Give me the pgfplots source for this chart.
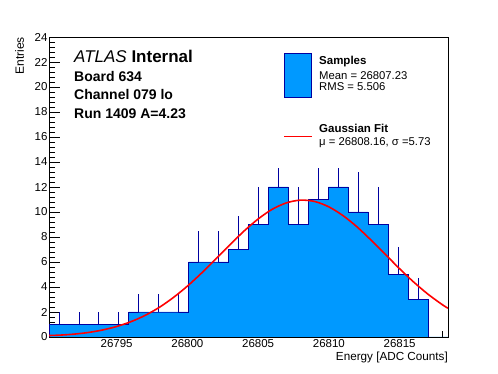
\documentclass[border=0pt]{standalone}
\usepackage{fontspec}
\setmainfont{Liberation Sans}
\usepackage{pgfplots}
\pgfplotsset{compat=1.18}
\usepackage{pgfplotstable}
\definecolor{rootblue}{RGB}{0,153,255}
\definecolor{rootnavy}{RGB}{0,0,160}
\definecolor{rootred}{RGB}{255,0,0}

% histogram: bin lower edge, content (last row closes the histogram)
\pgfplotstableread{
x y
26790.22 1
26791.63 1
26793.04 1
26794.45 1
26795.86 2
26797.27 2
26798.68 2
26800.09 6
26801.50 6
26802.91 7
26804.32 9
26805.73 12
26807.14 9
26808.55 11
26809.96 12
26811.37 10
26812.78 9
26814.19 5
26815.60 3
26817.01 0
26818.42 0
}\histtable

% visible error bar part: bin centre, content, upward length
\pgfplotstableread{
x y e
26790.925 1 1.000
26792.335 1 1.000
26793.745 1 1.000
26795.155 1 1.000
26796.565 2 1.414
26797.975 2 1.414
26799.385 2 1.414
26800.795 6 2.449
26802.205 6 2.449
26803.615 7 2.646
26805.025 9 3.000
26806.435 12 1.520
26807.845 9 3.000
26809.255 11 2.520
26810.665 12 1.520
26812.075 10 3.162
26813.485 9 3.000
26814.895 5 2.236
26816.305 3 1.732
}\errtable

% Gaussian fit curve
\pgfplotstableread{
x y
26790.22 0.12
26791 0.15
26792 0.23
26793 0.36
26794 0.56
26795 0.84
26796 1.22
26797 1.72
26798 2.36
26799 3.15
26800 4.07
26801 5.11
26802 6.23
26803 7.37
26804 8.47
26805 9.44
26806 10.22
26807 10.73
26808 10.95
26809 10.84
26810 10.41
26811 9.71
26812 8.80
26813 7.73
26814 6.60
26815 5.46
26816 4.39
26817 3.43
26818 2.60
26818.42 2.30
}\fittable

\begin{document}
\begin{tikzpicture}
\path[use as bounding box] (-49pt,-37pt) rectangle (449pt,337pt);
\begin{axis}[
  scale only axis,
  width=399pt, height=300pt,
  xmin=26790.22, xmax=26818.42,
  ymin=0, ymax=24,
  xtick={26795,26800,26805,26810,26815},
  minor xtick={26791,26792,...,26818},
  ytick={0,2,...,24},
  minor ytick={0,0.4,...,24},
  tick align=inside,
  xtick pos=left, ytick pos=left,
  major tick length=11pt,
  minor tick length=6pt,
  every tick/.style={black, line width=0.7pt},
  axis line style={black, line width=0.8pt},
  tick label style={font=\fontsize{11.5}{13}\selectfont},
  /pgf/number format/assume math mode=true,
  /pgf/number format/1000 sep={},
  xticklabel style={anchor=north, inner sep=0pt, yshift=-2pt},
  yticklabel style={anchor=east, inner sep=0pt, xshift=-1.3pt},
  scaled x ticks=false,
]
\addplot[const plot, fill=rootblue, draw=rootnavy, line width=0.8pt] table[x=x,y=y]{\histtable} \closedcycle;
\addplot[draw=none, no markers, forget plot,
  error bars/.cd, y dir=plus, y explicit, error mark=none,
  error bar style={draw=rootnavy, line width=0.8pt}]
  table[x=x, y=y, y error=e]{\errtable};
\addplot[rootred, line width=1.6pt, smooth, no marks] table[x=x,y=y]{\fittable};
\end{axis}

% labels
\node[rotate=90, anchor=base east, inner sep=0pt, font=\fontsize{12}{14}\selectfont] at (-25pt,300pt) {Entries};
\node[anchor=base east, inner sep=0pt, font=\fontsize{11.7}{14}\selectfont] at (399pt,-24pt) {Energy [ADC Counts]};

% ATLAS text block
\node[anchor=base west, inner sep=0pt, font=\fontsize{17}{20}\selectfont] at (25pt,274.3pt) {\textit{ATLAS} \textbf{Internal}};
\node[anchor=base west, inner sep=0pt, font=\fontsize{14}{16}\selectfont\bfseries] at (25pt,255.3pt) {Board 634};
\node[anchor=base west, inner sep=0pt, font=\fontsize{14}{16}\selectfont\bfseries] at (25pt,237pt) {Channel 079 lo};
\node[anchor=base west, inner sep=0pt, font=\fontsize{14}{16}\selectfont\bfseries] at (25pt,218pt) {Run 1409 A=4.23};

% legend
\filldraw[fill=rootblue, draw=rootnavy, line width=0.8pt] (235pt,239.5pt) rectangle (262.7pt,283.5pt);
\node[anchor=base west, inner sep=0pt, font=\fontsize{11.5}{13}\selectfont\bfseries] at (270pt,272pt) {Samples};
\node[anchor=base west, inner sep=0pt, font=\fontsize{11.3}{13}\selectfont] at (270pt,257.5pt) {Mean = 26807.23};
\node[anchor=base west, inner sep=0pt, font=\fontsize{11.3}{13}\selectfont] at (270pt,246pt) {RMS = 5.506};
\draw[rootred, line width=1.6pt] (235pt,200.3pt) -- (262.7pt,200.3pt);
\node[anchor=base west, inner sep=0pt, font=\fontsize{11.5}{13}\selectfont\bfseries] at (270pt,204pt) {Gaussian Fit};
\node[anchor=base west, inner sep=0pt, font=\fontsize{11.3}{13}\selectfont] at (270pt,191pt) {μ = 26808.16, σ =5.73};
\end{tikzpicture}
\end{document}
